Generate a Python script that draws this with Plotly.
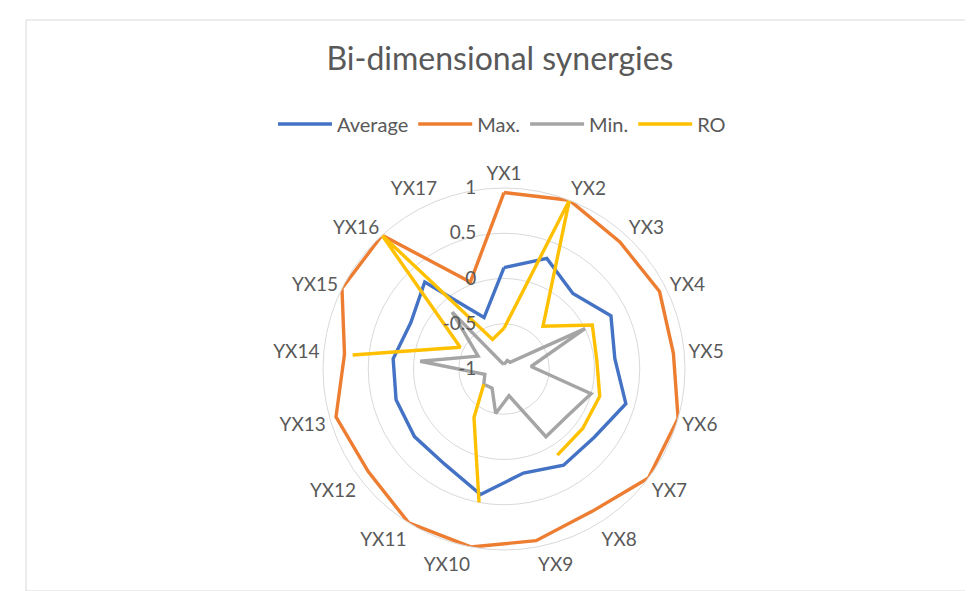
import plotly.graph_objects as go

W, H = 973, 591

# categories around the radar
categories = ["YX%d" % i for i in range(1, 18)]

# series values (None = empty cell, gap in the line)
average = [0.12, 0.31, 0.13, 0.32, 0.23, 0.40, 0.25, 0.25, 0.17, 0.41, 0.24, 0.24, 0.24, 0.23, 0.15, 0.30, -0.39]
maximum = [0.95, 1.0, 0.90, 0.92, 0.88, 1.0, 1.0, 0.85, 0.93, 1.0, 1.0, 0.88, 0.93, 0.77, 1.0, 1.0, 0.03]
minimum = [-0.95, -0.9, -0.9, 0.0, -0.7, 0.0, -0.13, -0.12, -0.7, -0.5, -0.75, -0.72, -0.78, -0.07, -0.68, -0.15, -0.92]
ro = [-0.55, 1.0, -0.36, 0.09, 0.03, 0.10, 0.09, 0.12, None, 0.50, -0.37, -0.72, None, 0.68, -0.46, 1.0, -0.65]

radial_ticks = [-1, -0.5, 0, 0.5, 1]
radial_labels = ["-1", "-0.5", "0", "0.5", "1"]

series = [
    ("Average", average, "#4472C4"),
    ("Max.", maximum, "#ED7D31"),
    ("Min.", minimum, "#A5A5A5"),
    ("RO", ro, "#FFC000"),
]

fig = go.Figure()
for name, vals, color in series:
    # close the loop like an Excel radar chart
    fig.add_trace(go.Scatterpolar(
        r=vals + [vals[0]], theta=categories + [categories[0]],
        mode="lines", name=name, connectgaps=False, cliponaxis=False,
        line=dict(color=color, width=3.4),
    ))

# radar centre and radius in px
cx, cy, rad = 496, 361, 181
pad = "\u00a0" * 5  # pushes the radial labels left of the axis
fig.update_layout(
    width=W, height=H,
    margin=dict(l=0, r=0, t=0, b=0),
    paper_bgcolor="white",
    font=dict(family="Lato, Open Sans, sans-serif", color="#595959", size=19),
    title=dict(text="Bi-dimensional synergies", x=492 / W, xanchor="center",
               y=1 - 51 / H, yanchor="middle",
               font=dict(size=32, color="#595959")),
    legend=dict(orientation="h", x=494 / W, xanchor="center",
                y=1 - 116 / H, yanchor="middle", itemwidth=54,
                font=dict(size=20, color="#595959")),
    polar=dict(
        domain=dict(x=[(cx - rad) / W, (cx + rad) / W],
                    y=[(H - cy - rad) / H, (H - cy + rad) / H]),
        bgcolor="white",
        gridshape="circular",
        radialaxis=dict(range=[-1, 1], tickvals=radial_ticks,
                        ticktext=[t + pad for t in radial_labels],
                        angle=90, tickangle=90, side="counterclockwise",
                        showline=False, ticks="", gridcolor="#D9D9D9",
                        gridwidth=1, tickfont=dict(size=19, color="#595959")),
        angularaxis=dict(rotation=90, direction="clockwise",
                         showgrid=False, linecolor="#D9D9D9", linewidth=1,
                         ticks="", tickfont=dict(size=19, color="#595959")),
    ),
    shapes=[dict(type="rect", xref="paper", yref="paper",
                 x0=18 / W, x1=1.01, y0=1 - 583 / H, y1=1 - 12 / H,
                 line=dict(color="#D9D9D9", width=1))],
)

fig.write_html("out.html")
